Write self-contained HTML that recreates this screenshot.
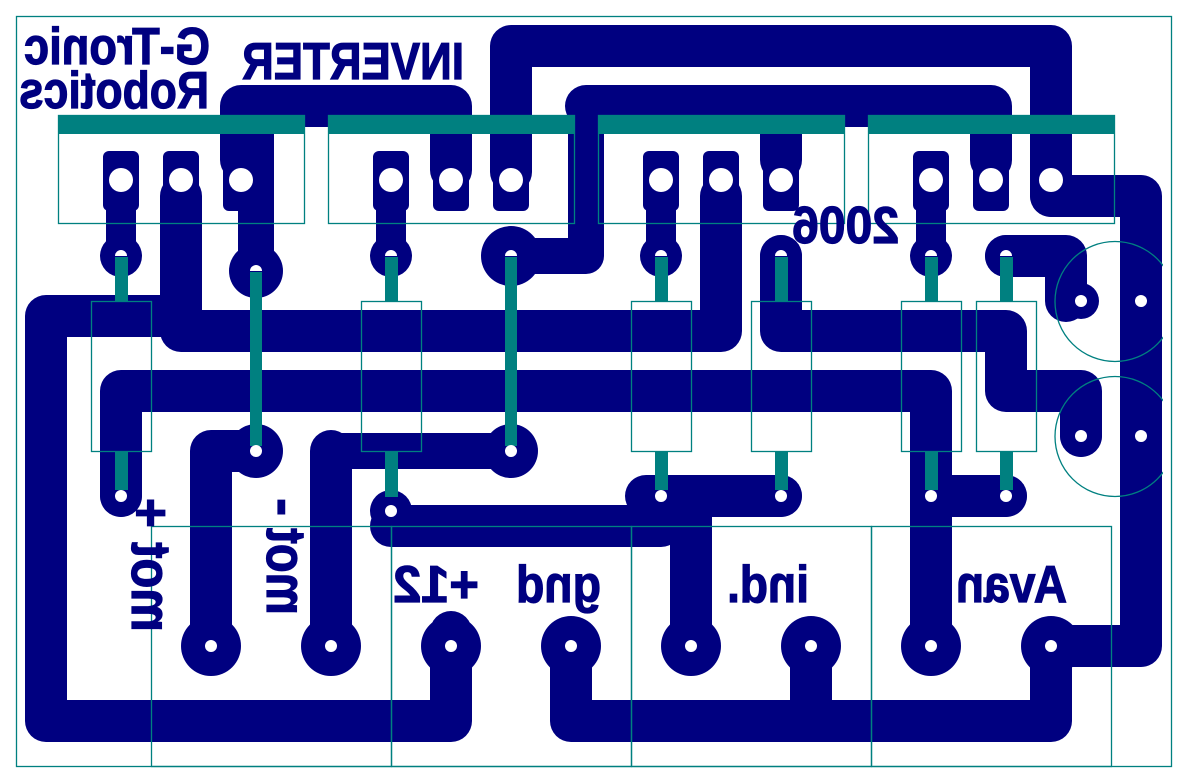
<!DOCTYPE html>
<html lang="en">
<head>
<meta charset="utf-8">
<title>G-Tronic Robotics Inverter PCB</title>
<style>
html,body{margin:0;padding:0;background:#fff}
svg{display:block}
text{font-family:"Liberation Sans",sans-serif;font-weight:bold;fill:#000080;stroke:#000080;stroke-width:1.2;font-size:52px}
text.r{font-size:56px}
.t{fill:none;stroke:#000080;stroke-width:42;stroke-linecap:round;stroke-linejoin:round}
.n{fill:none;stroke:#000080;stroke-width:30;stroke-linecap:round;stroke-linejoin:round}
.m{fill:none;stroke:#000080;stroke-width:36;stroke-linecap:round;stroke-linejoin:round}
.o{fill:none;stroke:#008080;stroke-width:1.3}
.l{stroke:#008080;stroke-width:13}
</style>
</head>
<body>
<svg width="1188" height="783" viewBox="0 0 1188 783" xmlns="http://www.w3.org/2000/svg">
<defs><clipPath id="c"><rect x="0" y="0" width="1163" height="783"/></clipPath></defs>
<g fill="#000080">
  <!-- transistor pads -->
  <rect x="103" y="151" width="36" height="60" rx="6"/><rect x="163" y="151" width="36" height="60" rx="6"/><rect x="223" y="151" width="36" height="60" rx="6"/>
  <rect x="373" y="151" width="36" height="60" rx="6"/><rect x="433" y="151" width="36" height="60" rx="6"/><rect x="493" y="151" width="36" height="60" rx="6"/>
  <rect x="643" y="151" width="36" height="60" rx="6"/><rect x="703" y="151" width="36" height="60" rx="6"/><rect x="763" y="151" width="36" height="60" rx="6"/>
  <rect x="913" y="151" width="36" height="60" rx="6"/><rect x="973" y="151" width="36" height="60" rx="6"/><rect x="1033" y="151" width="36" height="60" rx="6"/>
  <!-- round pads -->
  <circle cx="121" cy="256" r="21"/><circle cx="391" cy="256" r="21"/><circle cx="661" cy="256" r="21"/><circle cx="931" cy="256" r="21"/>
  <circle cx="781" cy="256" r="21"/><circle cx="1006" cy="256" r="21"/>
  <circle cx="256" cy="271" r="27"/><circle cx="511" cy="256" r="30"/>
  <circle cx="256" cy="451" r="27"/><circle cx="511" cy="451" r="27"/>
  <circle cx="121" cy="496" r="21"/><circle cx="391" cy="511" r="21"/><circle cx="661" cy="496" r="21"/><circle cx="781" cy="496" r="21"/><circle cx="931" cy="496" r="21"/><circle cx="1006" cy="496" r="21"/>
  <circle cx="1081" cy="301" r="18"/><circle cx="1081" cy="436" r="21"/><circle cx="1141" cy="301" r="18"/><circle cx="1141" cy="436" r="18"/>
  <circle cx="211" cy="646" r="30"/><circle cx="331" cy="646" r="30"/><circle cx="451" cy="646" r="30"/><circle cx="571" cy="646" r="30"/>
  <circle cx="691" cy="646" r="30"/><circle cx="811" cy="646" r="30"/><circle cx="931" cy="646" r="30"/><circle cx="1051" cy="646" r="30"/>
</g>
<!-- traces -->
<path class="t" d="M241 160V106H451V170"/>
<path class="m" d="M256 120V271"/>
<path class="n" d="M121 180V256M391 180V256M661 180V256M931 180V256"/>
<path class="t" d="M181 196V331H721V196"/>
<path class="t" d="M181 316H46V721H451V632"/>
<path class="t" d="M121 496V391H931V646"/>
<path class="t" d="M931 496H1006"/>
<path class="t" d="M256 451H211V646"/>
<path class="t" d="M331 451V646"/>
<path class="m" d="M331 451H511"/>
<path class="t" d="M391 526H661"/>
<path class="t" d="M646 496H781"/>
<path class="t" d="M691 496V646"/>
<path class="t" d="M571 646V721H1051V646"/>
<path class="t" d="M811 646V721"/>
<path class="t" d="M1051 646H1141V196H1051"/>
<path class="t" d="M511 172V46H1051V160"/>
<path class="t" d="M1051 160V196"/>
<path class="m" d="M511 256H586V106"/>
<path class="t" d="M586 106H991V160"/>
<path class="t" d="M781 106V160"/>
<path class="t" d="M781 256V331H1006V391H1081V436"/>
<path class="t" d="M1006 256H1066V301"/>
<!-- component leads -->
<path class="l" d="M121.500 257V301M391.500 257V301M661.500 257V301M931.500 257V301M781.500 257V301M1006.500 257V301"/>
<path class="l" d="M121.500 451V490M391.500 451V497M661.500 451V490M781.500 451V490M931.500 451V490M1006.500 451V490"/>
<path class="l" style="stroke-width:12" d="M256 272V446M511 257V446"/>
<!-- holes -->
<g fill="#fff">
  <circle cx="121" cy="180" r="12"/><circle cx="181" cy="180" r="12"/><circle cx="241" cy="180" r="12"/>
  <circle cx="391" cy="180" r="12"/><circle cx="451" cy="180" r="12"/><circle cx="511" cy="180" r="12"/>
  <circle cx="661" cy="180" r="12"/><circle cx="721" cy="180" r="12"/><circle cx="781" cy="180" r="12"/>
  <circle cx="931" cy="180" r="12"/><circle cx="991" cy="180" r="12"/><circle cx="1051" cy="180" r="12"/>
  <path d="M115 256a6 6 0 0 1 12 0zM385 256a6 6 0 0 1 12 0zM505 256a6 6 0 0 1 12 0zM655 256a6 6 0 0 1 12 0zM775 256a6 6 0 0 1 12 0zM925 256a6 6 0 0 1 12 0zM1000 256a6 6 0 0 1 12 0zM250 271a6 6 0 0 1 12 0z"/>
  <circle cx="1081" cy="301" r="6"/><circle cx="1141" cy="301" r="6"/><circle cx="1081" cy="436" r="6"/><circle cx="1141" cy="436" r="6"/>
  <circle cx="256" cy="451" r="6"/><circle cx="511" cy="451" r="6"/>
  <circle cx="121" cy="496" r="6"/><circle cx="391" cy="511" r="6"/><circle cx="661" cy="496" r="6"/><circle cx="781" cy="496" r="6"/><circle cx="931" cy="496" r="6"/><circle cx="1006" cy="496" r="6"/>
  <circle cx="211" cy="646" r="6"/><circle cx="331" cy="646" r="6"/><circle cx="451" cy="646" r="6"/><circle cx="571" cy="646" r="6"/><circle cx="691" cy="646" r="6"/><circle cx="811" cy="646" r="6"/><circle cx="931" cy="646" r="6"/><circle cx="1051" cy="646" r="6"/>
</g>
<!-- silkscreen -->
<g fill="#008080">
  <rect x="58" y="115" width="247" height="19"/><rect x="328" y="115" width="247" height="19"/><rect x="598" y="115" width="247" height="19"/><rect x="868" y="115" width="247" height="19"/>
</g>
<g class="o">
  <rect x="16.500" y="16.500" width="1155" height="750"/>
  <rect x="58.500" y="115.500" width="246" height="108"/><rect x="328.500" y="115.500" width="246" height="108"/><rect x="598.500" y="115.500" width="246" height="108"/><rect x="868.500" y="115.500" width="246" height="108"/>
  <rect x="91.500" y="301.500" width="60" height="150"/><rect x="361.500" y="301.500" width="60" height="150"/><rect x="631.500" y="301.500" width="60" height="150"/><rect x="751.500" y="301.500" width="60" height="150"/><rect x="901.500" y="301.500" width="60" height="150"/><rect x="976.500" y="301.500" width="60" height="150"/>
  <rect x="151.500" y="526.500" width="240" height="240"/><rect x="391.500" y="526.500" width="240" height="240"/><rect x="631.500" y="526.500" width="240" height="240"/><rect x="871.500" y="526.500" width="240" height="240"/>
  <g clip-path="url(#c)"><circle cx="1115" cy="301.500" r="60"/><circle cx="1115" cy="436.500" r="60"/></g>
</g>
<!-- mirrored labels -->
<text transform="translate(210,64) scale(-1,1)" textLength="186" lengthAdjust="spacingAndGlyphs">G-Tronic</text>
<text transform="translate(209,108) scale(-1,1)" textLength="190" lengthAdjust="spacingAndGlyphs">Robotics</text>
<text transform="translate(464,79) scale(-1,1)" textLength="222" lengthAdjust="spacingAndGlyphs">INVERTER</text>
<text transform="translate(899,243) scale(-1,1)" textLength="107" lengthAdjust="spacingAndGlyphs">2006</text>
<text transform="translate(479,602) scale(-1,1)" textLength="86" lengthAdjust="spacingAndGlyphs">+12</text>
<text transform="translate(601,602) scale(-1,1)" textLength="85" lengthAdjust="spacingAndGlyphs">gnd</text>
<text transform="translate(809,602) scale(-1,1)" textLength="82" lengthAdjust="spacingAndGlyphs">ind.</text>
<text transform="translate(1067,602) scale(-1,1)" textLength="111" lengthAdjust="spacingAndGlyphs">Avan</text>
<text class="r" transform="translate(132,632) scale(-1,1) rotate(-90)" textLength="90" lengthAdjust="spacingAndGlyphs">mot</text>
<text class="r" transform="translate(132,528) scale(-1,1) rotate(-90)" textLength="30" lengthAdjust="spacingAndGlyphs">+</text>
<text class="r" transform="translate(267,615) scale(-1,1) rotate(-90)" textLength="87" lengthAdjust="spacingAndGlyphs">mot</text>
<text class="r" transform="translate(267,516) scale(-1,1) rotate(-90)" textLength="18" lengthAdjust="spacingAndGlyphs">-</text>
</svg>
</body>
</html>
